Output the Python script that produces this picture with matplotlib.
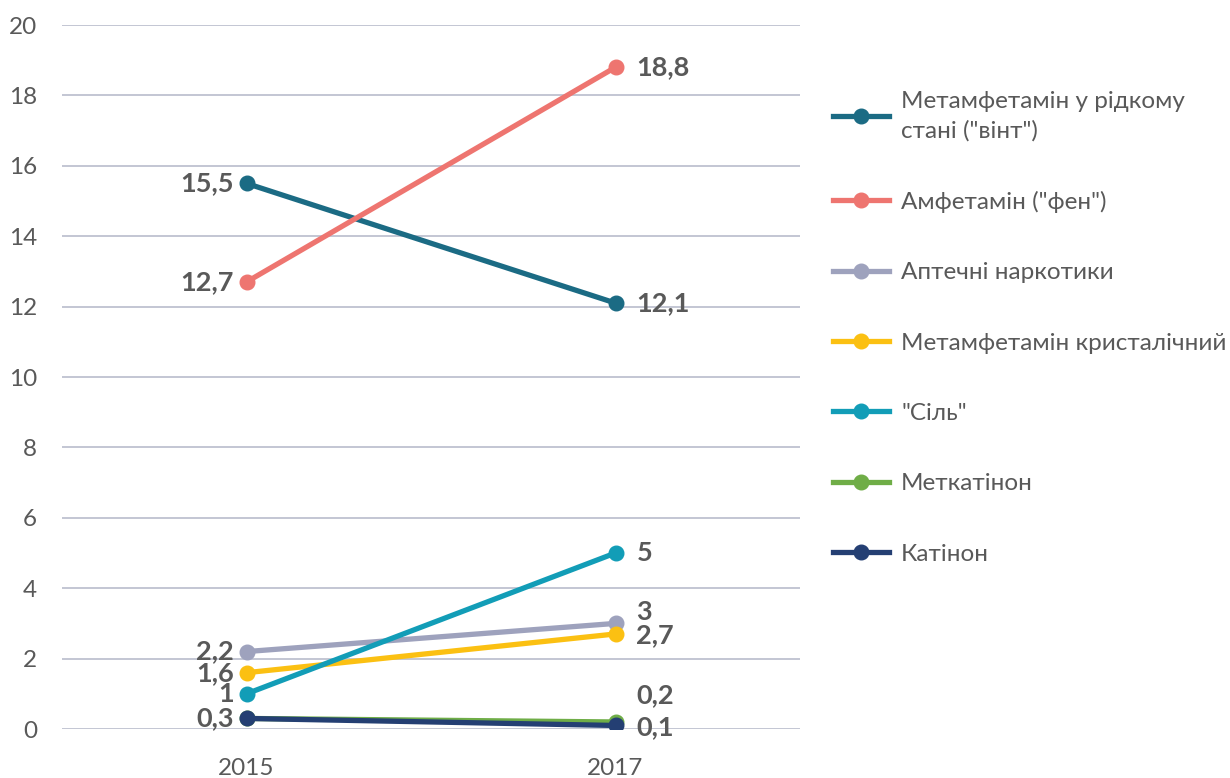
import matplotlib
matplotlib.use("Agg")
import matplotlib.pyplot as plt
from matplotlib.lines import Line2D

plt.rcParams['font.family'] = ['Lato', 'DejaVu Sans']

years = ["2015", "2017"]
series_names = [
    "Метамфетамін у рідкому\nстані (\"вінт\")",
    "Амфетамін (\"фен\")",
    "Аптечні наркотики",
    "Метамфетамін кристалічний",
    "\"Сіль\"",
    "Меткатінон",
    "Катінон",
]
vint = [15.5, 12.1]
fen = [12.7, 18.8]
aptechni = [2.2, 3.0]
crystal = [1.6, 2.7]
sil = [1.0, 5.0]
metcat = [0.3, 0.2]
catinon = [0.3, 0.1]
values = [vint, fen, aptechni, crystal, sil, metcat, catinon]
colors = ["#1B6B84", "#EE7570", "#9EA2BD", "#FBC012", "#129DB7", "#6FAD47", "#243F73"]

# label vertical offsets (points) for 2015 / 2017 labels
off_left = [0, 0, 0, 0, 0, 0, 0]
off_right = [0, 0, 8, -1, 0, 19, -1]
show_left = [True, True, True, True, True, False, True]

fig = plt.figure(figsize=(12.3, 7.78), dpi=100)
ax = fig.add_axes([62/1230, 49/778, (800-62)/1230, (729-25)/778])

xs = [0, 1]
for i, (name, v, c) in enumerate(zip(series_names, values, colors)):
    ax.plot(xs, v, color=c, lw=3.8, marker='o', ms=10.5, zorder=3 + (1 if i == 6 else 0),
            solid_capstyle='round')

def fmt(x):
    return ("%g" % x).replace('.', ',')

for i, v in enumerate(values):
    if show_left[i]:
        ax.annotate(fmt(v[0]), (0, v[0]), xytext=(-9, off_left[i]), textcoords='offset points',
                    ha='right', va='center', fontsize=19.5, fontweight='bold', color='#595959')
    ax.annotate(fmt(v[1]), (1, v[1]), xytext=(15, off_right[i]), textcoords='offset points',
                ha='left', va='center', fontsize=19.5, fontweight='bold', color='#595959')

ax.set_xlim(-0.5, 1.5)
ax.set_ylim(0, 20)
ax.set_yticks(range(0, 21, 2))
ax.set_xticks(xs)
ax.set_xticklabels(years)
ax.grid(axis='y', color='#B9BCCC', lw=1.2)
ax.set_axisbelow(True)
for s in ax.spines.values():
    s.set_visible(False)
ax.tick_params(length=0, labelsize=17.5, colors='#595959')
ax.tick_params(axis='x', pad=21)
ax.tick_params(axis='y', pad=18)

handles = [Line2D([0], [0], color=c, lw=3.8, marker='o', ms=10.5) for c in colors]
leg = fig.legend(handles, series_names, loc='upper left', bbox_to_anchor=(833/1230, 1 - 91/778),
                 frameon=False, fontsize=17.5, labelcolor='#595959', handlelength=2.3,
                 handletextpad=0.5, labelspacing=2.03, borderaxespad=0, borderpad=0)
for t in leg.get_texts():
    t.set_linespacing(1.45)

fig.savefig("out.png", dpi=100)
